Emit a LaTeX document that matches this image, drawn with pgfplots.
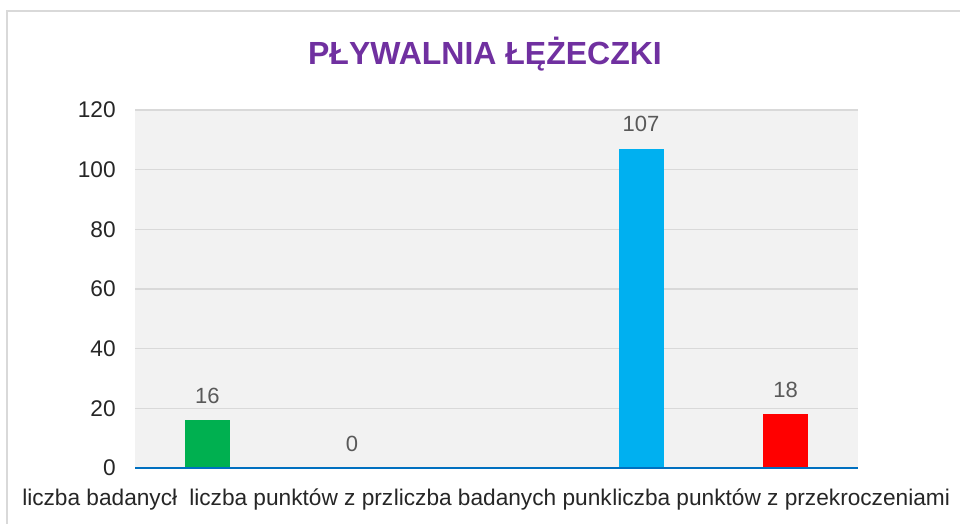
\documentclass[border=0pt]{standalone}
\usepackage{fontspec}
\setmainfont{Liberation Sans}
\usepackage{pgfplots}
\pgfplotsset{compat=1.18}
\definecolor{titlepurple}{HTML}{7030A0}
\definecolor{gridgray}{HTML}{D9D9D9}
\definecolor{plotbg}{HTML}{F2F2F2}
\definecolor{axisblue}{HTML}{0070C0}
\definecolor{bargreen}{HTML}{00B050}
\definecolor{barblue}{HTML}{00B0F0}
\definecolor{barred}{HTML}{FF0000}
\definecolor{ticktext}{HTML}{262626}
\definecolor{valtext}{HTML}{595959}
\definecolor{framegray}{HTML}{D9D9D9}
\begin{document}
\begin{tikzpicture}[x=0.75pt,y=0.75pt]
\useasboundingbox (0,0) rectangle (960,524);
\fill[white] (0,0) rectangle (960,524);
\draw[framegray, line width=1.5pt] (7,0) -- (7,513) -- (960,513);
\node[anchor=base, inner sep=0, text=titlepurple, font=\fontsize{24pt}{28pt}\selectfont\bfseries] at (485,459) {PŁYWALNIA ŁĘŻECZKI};
\begin{axis}[
  at={(101.25pt,42pt)}, anchor=south west,
  scale only axis, width=542.25pt, height=268.5pt,
  xmin=-0.5, xmax=4.5, ymin=0, ymax=120,
  ytick={0,20,...,120}, xtick=\empty,
  ymajorgrids, grid style={gridgray, line width=1.1pt},
  axis line style={draw=none}, major tick length=0pt,
  /pgf/number format/assume math mode=true,
  yticklabel style={text=ticktext, font=\fontsize{17pt}{20pt}\selectfont, xshift=-11pt},
  axis background/.style={fill=plotbg},
  ybar, bar width=33.75pt, bar shift=0pt,
  nodes near coords,
  every node near coord/.append style={text=valtext, font=\fontsize{16.5pt}{19pt}\selectfont, yshift=9pt},
  clip=false,
]
\addplot[fill=bargreen, draw=none] coordinates {(0,16)};
\addplot[fill=bargreen, draw=none] coordinates {(1,0)};
\addplot[fill=barblue, draw=none] coordinates {(3,107)};
\addplot[fill=barred, draw=none] coordinates {(4,18)};
\draw[axisblue, line width=1.8pt] (rel axis cs:0,0) -- (rel axis cs:1,0);
\end{axis}
\begin{scope}[every node/.style={anchor=base west, inner sep=0, text=ticktext, font=\fontsize{17pt}{20pt}\selectfont}]
\node at (22,18) {liczba badanycł};
\node at (189,18) {liczba punktów z prz};
\node at (393.5,18) {liczba badanych punk};
\node at (612,18) {liczba punktów z przekroczeniami};
\end{scope}
\end{tikzpicture}
\end{document}
